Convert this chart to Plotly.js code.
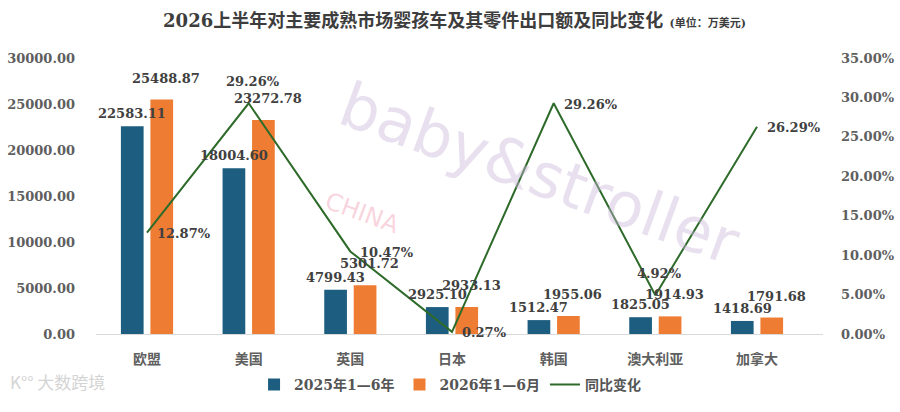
<!DOCTYPE html>
<html>
<head>
<meta charset="utf-8">
<script src="https://cdn.plot.ly/plotly-3.0.1.min.js"></script>
<style>html,body{margin:0;padding:0;background:#fff;}#chart{width:900px;height:412px;}</style>
</head>
<body>
<div id="chart"></div>
<script>
const categories = ['欧盟', '美国', '英国', '日本', '韩国', '澳大利亚', '加拿大'];
const exports2025 = [22583.11, 18004.60, 4799.43, 2925.10, 1512.47, 1825.05, 1418.69];
const exports2026 = [25488.87, 23272.78, 5301.72, 2933.13, 1955.06, 1914.93, 1791.68];
const yoyChange = [0.1287, 0.2926, 0.1047, 0.0027, 0.2926, 0.0492, 0.2629];
const leftTicks = [0, 5000, 10000, 15000, 20000, 25000, 30000];
const rightTicks = [0, 0.05, 0.10, 0.15, 0.20, 0.25, 0.30, 0.35];
const seriesNames = ['2025年1—6年', '2026年1—6月', '同比变化'];

const FONT = "'DejaVu Serif', 'Noto Sans CJK SC', serif";
const LABEL_COLOR = '#404040';
const AXIS_COLOR = '#5f5f5f';

const traces = [
  {type: 'bar', name: seriesNames[0], x: categories, y: exports2025,
   marker: {color: '#1D5E80'}, hoverinfo: 'skip'},
  {type: 'bar', name: seriesNames[1], x: categories, y: exports2026,
   marker: {color: '#EE7D33'}, hoverinfo: 'skip'},
  {type: 'scatter', mode: 'lines', name: seriesNames[2], x: categories, y: yoyChange,
   yaxis: 'y2', line: {color: '#2E6B2A', width: 2}, hoverinfo: 'skip'}
];

const annotations = [];
const fmt2 = v => v.toFixed(2);
categories.forEach((c, i) => {
  annotations.push({x: c, y: exports2025[i], xref: 'x', yref: 'y', text: fmt2(exports2025[i]),
    showarrow: false, xanchor: 'center', yanchor: 'bottom', xshift: -15, yshift: 3,
    font: {family: FONT, size: 13, color: LABEL_COLOR, weight: 'bold'}});
  annotations.push({x: c, y: exports2026[i], xref: 'x', yref: 'y', text: fmt2(exports2026[i]),
    showarrow: false, xanchor: 'center', yanchor: 'bottom', xshift: 19, yshift: 12,
    font: {family: FONT, size: 13, color: LABEL_COLOR, weight: 'bold'}});
  const above = (i === 1 || i === 5);
  annotations.push({x: c, y: yoyChange[i], xref: 'x', yref: 'y2', text: (yoyChange[i] * 100).toFixed(2) + '%',
    showarrow: false,
    xanchor: above ? 'center' : 'left', yanchor: above ? 'bottom' : 'middle',
    xshift: above ? 4 : 8, yshift: above ? 12 : -1,
    font: {family: FONT, size: 13, color: LABEL_COLOR, weight: 'bold'}});
});

// watermark / source marks
annotations.push({xref: 'paper', yref: 'paper', x: 0.61, y: 0.58, xanchor: 'center', yanchor: 'middle',
  text: 'baby&stroller', showarrow: false,
  textangle: 20, font: {family: 'DejaVu Sans', size: 62, color: 'rgba(200,180,215,0.42)'}});
annotations.push({xref: 'paper', yref: 'paper', x: 0.366, y: 0.44, xanchor: 'center', yanchor: 'middle',
  text: 'CHINA', showarrow: false,
  textangle: 20, font: {family: 'DejaVu Sans', size: 24, color: 'rgba(240,160,180,0.45)'}});
annotations.push({xref: 'paper', yref: 'paper', x: 0.0, y: -0.173, xanchor: 'left', yanchor: 'middle',
  text: 'K°° 大数跨境', showarrow: false,
  xshift: -88, font: {family: "'Noto Sans CJK SC'", size: 17, color: '#d4d4d4'}});

const layout = {
  width: 900, height: 412,
  paper_bgcolor: '#ffffff', plot_bgcolor: '#ffffff',
  margin: {l: 96, r: 77, t: 58, b: 77},
  title: {
    text: '2026上半年对主要成熟市场婴孩车及其零件出口额及同比变化 <span style="font-size:11px">(单位：万美元)</span>',
    x: 0.505, xref: 'container', xanchor: 'center',
    y: 1 - 21 / 412, yref: 'container', yanchor: 'middle',
    font: {family: FONT, size: 18, color: '#3d3d3d', weight: 'bold'}
  },
  barmode: 'group', bargap: 0.42, bargroupgap: 0.23,
  showlegend: true,
  legend: {orientation: 'h', x: 0.487, xanchor: 'center', y: -0.18, yanchor: 'middle',
    font: {family: FONT, size: 14, color: '#555555', weight: 'bold'}, traceorder: 'normal',
    itemwidth: 30},
  xaxis: {
    type: 'category', showline: true, linecolor: '#d9d9d9', linewidth: 1,
    showgrid: false, zeroline: false, ticks: '', ticklabelstandoff: 12,
    tickfont: {family: FONT, size: 14, color: AXIS_COLOR, weight: 'bold'}
  },
  yaxis: {
    range: [0, 30000], tickvals: leftTicks, tickformat: '.2f',
    showgrid: false, zeroline: false, showline: false, ticks: '', ticklabelstandoff: 20,
    tickfont: {family: FONT, size: 13, color: AXIS_COLOR, weight: 'bold'}
  },
  yaxis2: {
    overlaying: 'y', side: 'right', range: [0, 0.35], tickvals: rightTicks, tickformat: '.2%',
    showgrid: false, zeroline: false, showline: false, ticks: '', ticklabelstandoff: 17,
    tickfont: {family: FONT, size: 13, color: AXIS_COLOR, weight: 'bold'}
  },
  annotations: annotations
};

Plotly.newPlot('chart', traces, layout, {staticPlot: true, displayModeBar: false});
</script>
</body>
</html>
